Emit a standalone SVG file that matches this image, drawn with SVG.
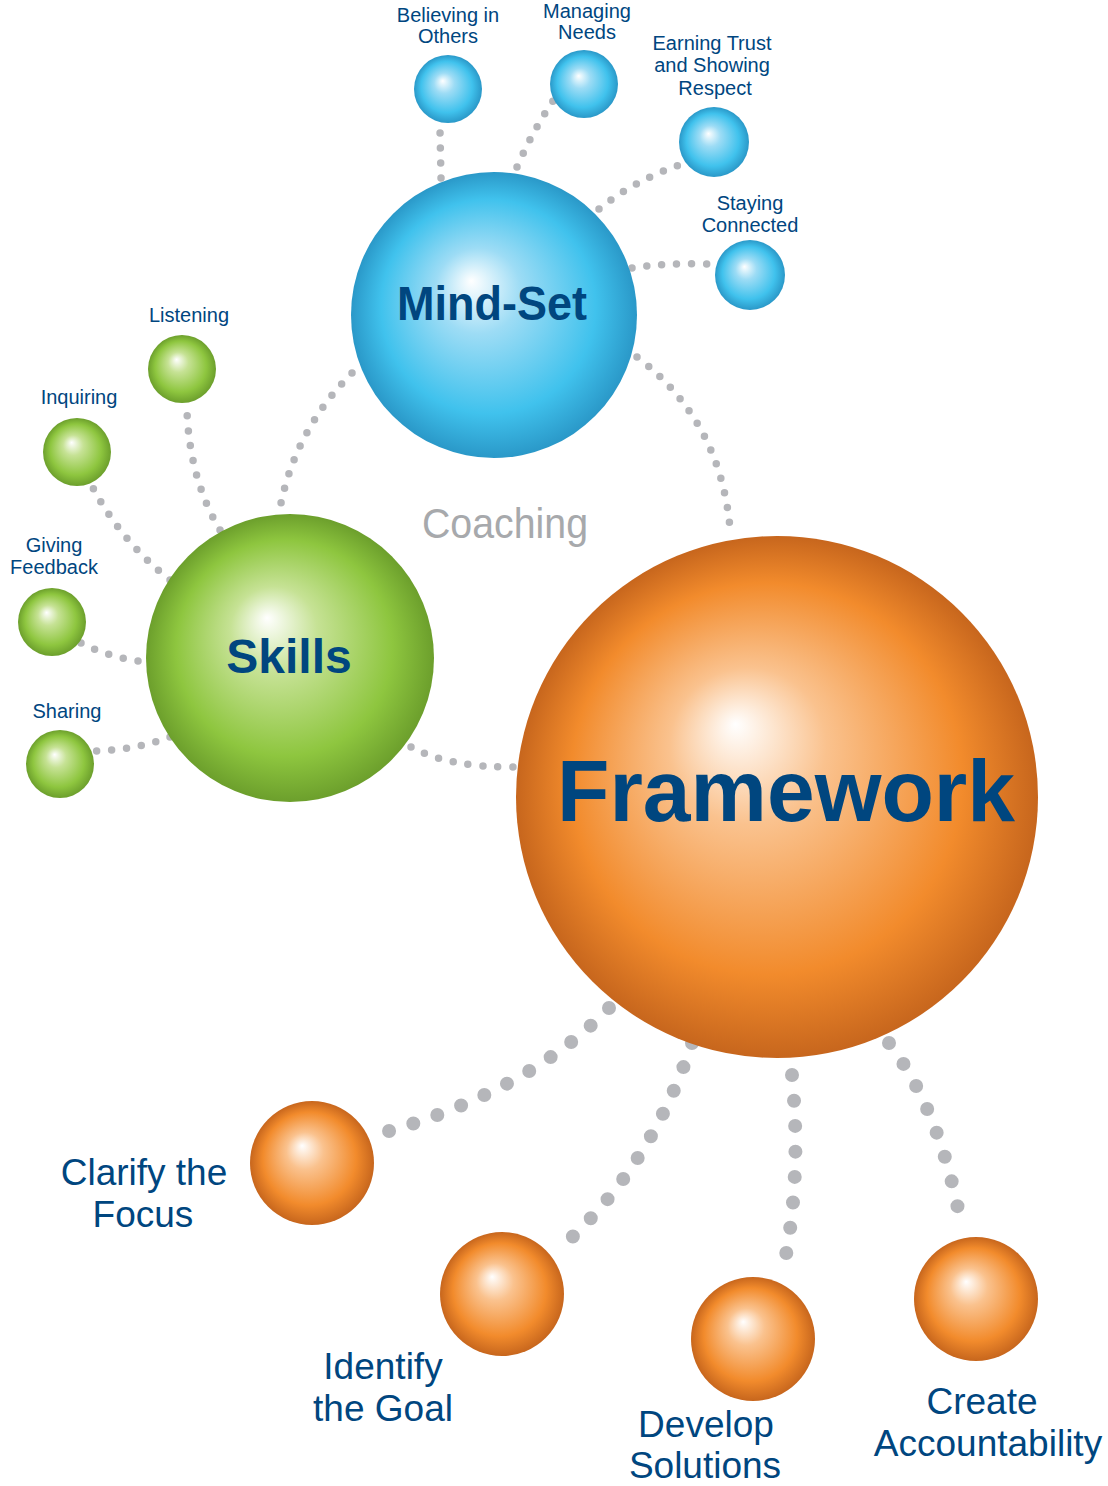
<svg xmlns="http://www.w3.org/2000/svg" width="1108" height="1486" viewBox="0 0 1108 1486">
<defs>
<radialGradient id="gBlue" cx="0.5" cy="0.5" r="0.5" fx="0.42" fy="0.38">
<stop offset="0" stop-color="#ffffff"/>
<stop offset="0.3" stop-color="#9ddcf5"/>
<stop offset="0.75" stop-color="#40c2ed"/>
<stop offset="1" stop-color="#2a98c8"/>
</radialGradient>
<radialGradient id="gGreen" cx="0.5" cy="0.5" r="0.5" fx="0.42" fy="0.36">
<stop offset="0" stop-color="#ffffff"/>
<stop offset="0.3" stop-color="#c6e295"/>
<stop offset="0.75" stop-color="#8ec63f"/>
<stop offset="1" stop-color="#6c9f2c"/>
</radialGradient>
<radialGradient id="gOrange" cx="0.5" cy="0.5" r="0.5" fx="0.42" fy="0.36">
<stop offset="0" stop-color="#ffffff"/>
<stop offset="0.3" stop-color="#fac28e"/>
<stop offset="0.75" stop-color="#f28b2c"/>
<stop offset="1" stop-color="#c7661d"/>
</radialGradient>
</defs>
<style>
.lbl{font-family:"Liberation Sans",Arial,sans-serif;fill:#00467f;text-anchor:middle}
.s{font-size:20px}
.m{font-size:37px}
.b{font-weight:bold}
.dot{fill:none;stroke:#b5b6ba;stroke-linecap:round;stroke-width:7.5;stroke-dasharray:0 15}
.dotL{fill:none;stroke:#b5b6ba;stroke-linecap:round;stroke-width:14;stroke-dasharray:0 25.5}
</style>
<rect width="1108" height="1486" fill="#ffffff"/>
<g id="connectors">
<path class="dot" d="M 441 178 L 440 131"/>
<path class="dot" d="M 517 167 Q 533 130 555 98"/>
<path class="dot" d="M 599 209 Q 635 180 682 164"/>
<path class="dot" d="M 632 268 Q 660 263 709 264"/>
<path class="dot" d="M 220 530 Q 190 480 187 412"/>
<path class="dot" d="M 170 580 Q 120 540 92 486"/>
<path class="dot" d="M 138 661 Q 105 656 79 642"/>
<path class="dot" d="M 170 737 Q 135 750 94 751"/>
<path class="dot" d="M 352 373 Q 295 430 280 508"/>
<path class="dot" d="M 637 357 Q 720 420 730 528"/>
<path class="dot" d="M 411 747 Q 450 768 516 767"/>
<path class="dotL" d="M 609 1008 Q 525 1095 368 1137"/>
<path class="dotL" d="M 692 1043 Q 650 1170 558 1250"/>
<path class="dotL" d="M 792 1075 Q 802 1180 783 1270"/>
<path class="dotL" d="M 889 1043 Q 940 1110 961 1224"/>
</g>
<text x="505" y="538" font-family="'Liberation Sans',Arial,sans-serif" font-size="42" fill="#a7a9ac" text-anchor="middle" textLength="166" lengthAdjust="spacingAndGlyphs">Coaching</text>
<g id="mindset">
<circle cx="494" cy="315" r="143" fill="url(#gBlue)"/>
<text class="lbl b" x="492" y="320" font-size="48" textLength="190" lengthAdjust="spacingAndGlyphs">Mind-Set</text>
</g>
<g id="skills">
<circle cx="290" cy="658" r="144" fill="url(#gGreen)"/>
<text class="lbl b" x="289" y="673" font-size="48">Skills</text>
</g>
<g id="framework">
<circle cx="777" cy="797" r="261" fill="url(#gOrange)"/>
<text class="lbl b" x="786" y="821" font-size="87" textLength="458" lengthAdjust="spacingAndGlyphs">Framework</text>
</g>
<g id="believing">
<circle cx="448" cy="89" r="34" fill="url(#gBlue)"/>
<text class="lbl s" x="448" y="22">Believing in</text>
<text class="lbl s" x="448" y="43">Others</text>
</g>
<g id="managing">
<circle cx="584" cy="84" r="34" fill="url(#gBlue)"/>
<text class="lbl s" x="587" y="18">Managing</text>
<text class="lbl s" x="587" y="39">Needs</text>
</g>
<g id="earning">
<circle cx="714" cy="142" r="35" fill="url(#gBlue)"/>
<text class="lbl s" x="712" y="50">Earning Trust</text>
<text class="lbl s" x="712" y="72">and Showing</text>
<text class="lbl s" x="715" y="95">Respect</text>
</g>
<g id="staying">
<circle cx="750" cy="275" r="35" fill="url(#gBlue)"/>
<text class="lbl s" x="750" y="210">Staying</text>
<text class="lbl s" x="750" y="232">Connected</text>
</g>
<g id="listening">
<circle cx="182" cy="369" r="34" fill="url(#gGreen)"/>
<text class="lbl s" x="189" y="322">Listening</text>
</g>
<g id="inquiring">
<circle cx="77" cy="452" r="34" fill="url(#gGreen)"/>
<text class="lbl s" x="79" y="404">Inquiring</text>
</g>
<g id="giving">
<circle cx="52" cy="622" r="34" fill="url(#gGreen)"/>
<text class="lbl s" x="54" y="552">Giving</text>
<text class="lbl s" x="54" y="574">Feedback</text>
</g>
<g id="sharing">
<circle cx="60" cy="764" r="34" fill="url(#gGreen)"/>
<text class="lbl s" x="67" y="718">Sharing</text>
</g>
<g id="clarify">
<circle cx="312" cy="1163" r="62" fill="url(#gOrange)"/>
<text class="lbl m" x="144" y="1185">Clarify the</text>
<text class="lbl m" x="143" y="1227">Focus</text>
</g>
<g id="identify">
<circle cx="502" cy="1294" r="62" fill="url(#gOrange)"/>
<text class="lbl m" x="383" y="1379">Identify</text>
<text class="lbl m" x="383" y="1421">the Goal</text>
</g>
<g id="develop">
<circle cx="753" cy="1339" r="62" fill="url(#gOrange)"/>
<text class="lbl m" x="706" y="1437" font-size="36">Develop</text>
<text class="lbl m" x="705" y="1478" font-size="36">Solutions</text>
</g>
<g id="create">
<circle cx="976" cy="1299" r="62" fill="url(#gOrange)"/>
<text class="lbl m" x="982" y="1414">Create</text>
<text class="lbl m" x="988" y="1456" font-size="38">Accountability</text>
</g>
</svg>
